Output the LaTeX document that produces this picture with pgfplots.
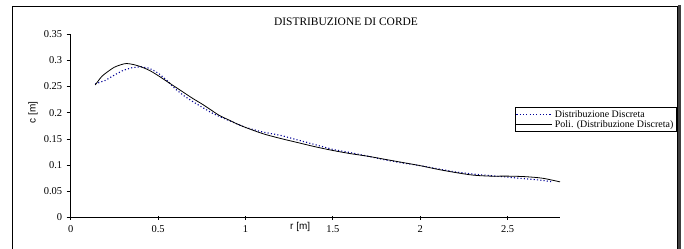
\documentclass[border=0pt]{standalone}
\usepackage{pgfplots}
\pgfplotsset{compat=1.18}
\usepackage{fontspec}
\setmainfont{Liberation Serif}
\newfontfamily\arialfont{Liberation Sans}
\definecolor{dotblue}{RGB}{0,0,150}
\newcommand\tickfont{\fontsize{10.5}{12}\selectfont}

\pgfplotstableread{
r c
0.14 0.255
0.20 0.262
0.25 0.272
0.30 0.281
0.35 0.286
0.40 0.288
0.45 0.285
0.50 0.276
0.55 0.262
0.60 0.245
0.65 0.232
0.70 0.221
0.75 0.211
0.80 0.201
0.85 0.193
0.90 0.186
1.00 0.172
1.10 0.163
1.20 0.157
1.30 0.148
1.40 0.139
1.50 0.130
1.60 0.124
1.70 0.117
1.80 0.110
1.90 0.104
2.00 0.099
2.10 0.093
2.20 0.087
2.30 0.083
2.40 0.080
2.50 0.077
2.60 0.074
2.70 0.071
2.76 0.068
}\discreta

\pgfplotstableread{
r c
0.14 0.253
0.16 0.262
0.18 0.270
0.21 0.278
0.25 0.287
0.29 0.292
0.32 0.294
0.36 0.292
0.40 0.288
0.45 0.281
0.50 0.271
0.55 0.260
0.60 0.249
0.65 0.238
0.70 0.227
0.75 0.217
0.80 0.206
0.85 0.195
0.90 0.187
0.95 0.179
1.00 0.172
1.10 0.160
1.20 0.151
1.30 0.143
1.40 0.135
1.50 0.128
1.60 0.122
1.70 0.117
1.80 0.111
1.90 0.105
2.00 0.099
2.10 0.092
2.20 0.086
2.30 0.081
2.40 0.079
2.50 0.079
2.60 0.078
2.70 0.075
2.80 0.068
}\poli

\begin{document}
\begin{tikzpicture}[x=1bp,y=1bp]
\useasboundingbox (0,0) rectangle (684,248);
% chart area frame with shadow
\fill[black!75] (678,-2) rectangle (680.5,243);
\draw[line width=0.8bp] (12.7,-2) -- (12.7,242) -- (677.5,242) -- (677.5,-2);
\node[font=\fontsize{11.5}{13}\selectfont] at (346,226) {DISTRIBUZIONE DI CORDE};
\begin{axis}[
  at={(70.7bp,30.5bp)}, anchor=south west,
  scale only axis, width=489.3bp, height=183.3bp,
  xmin=0, xmax=2.8, ymin=0, ymax=0.35,
  axis x line*=bottom, axis y line*=left,
  axis line style={line width=0.8bp, -},
  xtick={0,0.5,1,1.5,2,2.5},
  ytick={0,0.05,0.1,0.15,0.2,0.25,0.3,0.35},
  /pgf/number format/assume math mode=true,
  yticklabel={\tickfont\pgfmathprintnumber[fixed,precision=2,assume math mode=true]{\tick}},
  xticklabel={\tickfont\pgfmathprintnumber[fixed,precision=1,assume math mode=true]{\tick}},
  x tick label style={yshift=-3bp},
  y tick label style={xshift=-1bp},
  major tick length=4bp,
  xtick align=center, ytick align=outside,
  tick style={black, line width=0.7bp},
  xlabel={\arialfont\fontsize{10}{11}\selectfont r [m]},
  ylabel={\arialfont\fontsize{10}{11}\selectfont c [m]},
  every axis x label/.style={at={(rel axis cs:0.469,-0.053)}, anchor=center},
  every axis y label/.style={at={(rel axis cs:-0.077,0.574)}, anchor=center, rotate=90},
  legend style={at={(rel axis cs:0.907,0.602)}, anchor=north west,
    draw=black, line width=0.7bp, inner xsep=1bp, inner ysep=1bp,
    font=\fontsize{10}{10.5}\selectfont, row sep=-2.5bp,
    cells={anchor=west}},
  legend cell align=left,
  legend image code/.code={\draw[#1] (0bp,0bp) -- (36bp,0bp);},
]
\addplot[dotblue, line width=1.1bp, dash pattern=on 1.1bp off 2.2bp] table[x=r,y=c] {\discreta};
\addlegendentry{Distribuzione Discreta}
\addplot[black, line width=0.8bp, smooth] table[x=r,y=c] {\poli};
\addlegendentry{Poli. (Distribuzione Discreta)}
\end{axis}
\end{tikzpicture}
\end{document}
